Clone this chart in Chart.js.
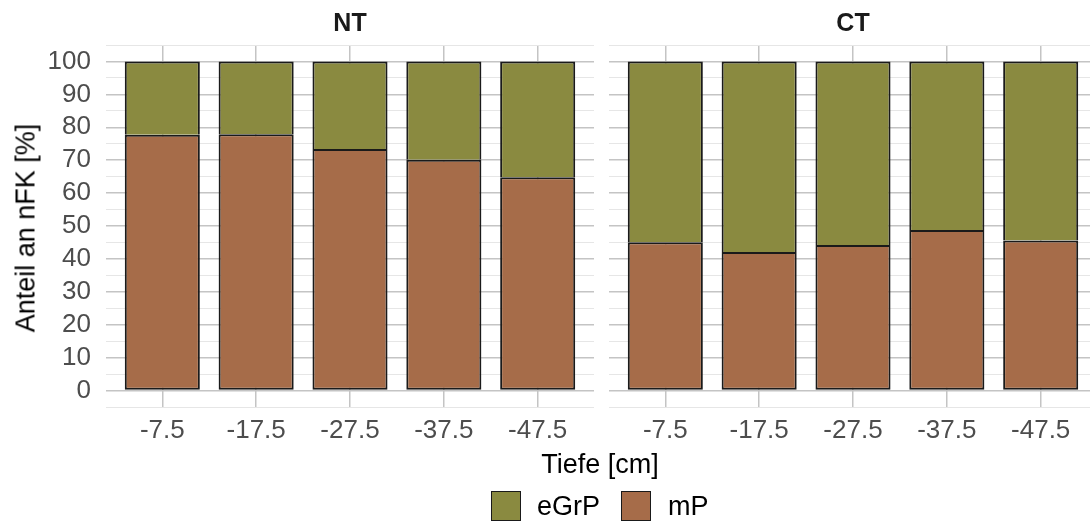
<!DOCTYPE html>
<html>
<head>
<meta charset="utf-8">
<script src="https://cdn.jsdelivr.net/npm/chart.js@4.4.0/dist/chart.umd.min.js"></script>
<style>
  html, body { margin: 0; padding: 0; background: #fff; overflow: hidden; }
  body { width: 1090px; height: 524px; position: relative; font-family: "Liberation Sans", Arial, sans-serif; }
  canvas { position: absolute; top: 0; }
  .strip { position: absolute; top: 8px; width: 488px; height: 28px; line-height: 28px; text-align: center; font-weight: bold; font-size: 25px; color: #1a1a1a; }
  .ytitle { position: absolute; left: 26px; top: 228px; transform: translate(-50%, -50%) rotate(-90deg); white-space: nowrap; font-size: 27px; color: #000; }
  .xtitle { position: absolute; left: 0; width: 1200px; top: 449px; line-height: 30px; text-align: center; font-size: 27px; color: #000; }
  .key { position: absolute; top: 491px; width: 28px; height: 28px; border: 1.5px solid #1a1a1a; }
  .ltxt { position: absolute; top: 491px; line-height: 30px; font-size: 27px; color: #000; }
</style>
</head>
<body>
<canvas id="chartNT" width="594" height="524" style="left:0"></canvas>
<canvas id="chartCT" width="488" height="524" style="left:609px"></canvas>

<div class="strip" style="left:106px">NT</div>
<div class="strip" style="left:609px">CT</div>
<div class="ytitle">Anteil an nFK [%]</div>
<div class="xtitle">Tiefe [cm]</div>

<div class="key" style="left:491px;background:#8a8a40"></div>
<div class="ltxt" style="left:537px">eGrP</div>
<div class="key" style="left:621px;background:#a66c49"></div>
<div class="ltxt" style="left:668px">mP</div>

<script>
// depth classes (x categories)
const depths = ['-7.5', '-17.5', '-27.5', '-37.5', '-47.5'];

// share of nFK in %
const mP_NT = [77.7, 77.9, 73.4, 70.1, 64.8];
const eGrP_NT = [22.3, 22.1, 26.6, 29.9, 35.2];
const mP_CT = [45.1, 42.1, 44.2, 48.8, 45.6];
const eGrP_CT = [54.9, 57.9, 55.8, 51.2, 54.4];

const yTicks = [0, 10, 20, 30, 40, 50, 60, 70, 80, 90, 100];

const COL_EGRP = '#8a8a40';
const COL_MP = '#a66c49';
const GRID_MAJOR = '#c4c4c4';
const GRID_MINOR = '#e6e6e6';

function points(values) {
  return values.map((v, i) => ({ x: i, y: v }));
}

function isMajor(v) {
  return yTicks.includes(v);
}

function makeChart(id, mP, eGrP, showY) {
  const ctx = document.getElementById(id);
  return new Chart(ctx, {
    type: 'bar',
    data: {
      datasets: [
        { label: 'mP', data: points(mP), backgroundColor: COL_MP, borderSkipped: false },
        // bottom edge skipped so the seam is a single line from mP
        { label: 'eGrP', data: points(eGrP), backgroundColor: COL_EGRP, borderSkipped: 'start' }
      ]
    },
    options: {
      responsive: false,
      maintainAspectRatio: false,
      devicePixelRatio: 1,
      animation: false,
      layout: { padding: { top: 45, left: 0, right: 0, bottom: 0 } },
      datasets: {
        bar: {
          borderColor: '#1a1a1a',
          borderWidth: 2,
          categoryPercentage: 1,
          barPercentage: 0.8
        }
      },
      plugins: {
        legend: { display: false },
        tooltip: { enabled: false }
      },
      scales: {
        x: {
          type: 'linear',
          stacked: true,
          offset: false,
          min: -0.6,
          max: 4.6,
          afterBuildTicks: s => { s.ticks = depths.map((d, i) => ({ value: i })); },
          afterFit: s => { s.height = 117; },
          border: { display: false },
          grid: { offset: false, color: GRID_MAJOR, lineWidth: 1.5, drawTicks: false },
          ticks: {
            autoSkip: false,
            maxRotation: 0,
            padding: 8,
            color: '#4d4d4d',
            font: { family: 'Liberation Sans', size: 26 },
            callback: v => depths[v]
          }
        },
        y: {
          type: 'linear',
          stacked: true,
          min: -5,
          max: 105,
          afterBuildTicks: s => {
            const t = [];
            for (let v = -5; v <= 105; v += 5) t.push({ value: v });
            s.ticks = t;
          },
          afterFit: s => { s.width = showY ? 106 : 0; },
          border: { display: false },
          grid: {
            drawTicks: false,
            color: c => isMajor(c.tick.value) ? GRID_MAJOR : GRID_MINOR,
            lineWidth: c => isMajor(c.tick.value) ? 1.5 : 1
          },
          ticks: {
            display: showY,
            autoSkip: false,
            padding: 15,
            color: '#4d4d4d',
            font: { family: 'Liberation Sans', size: 26 },
            callback: v => isMajor(v) ? String(v) : ''
          }
        }
      }
    }
  });
}

makeChart('chartNT', mP_NT, eGrP_NT, true);
makeChart('chartCT', mP_CT, eGrP_CT, false);
</script>
</body>
</html>
